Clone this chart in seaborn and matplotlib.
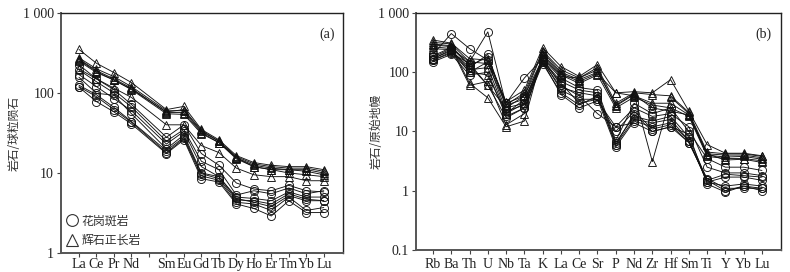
import numpy as np
import pandas as pd
import matplotlib
matplotlib.use("Agg")
import matplotlib.pyplot as plt
from matplotlib.lines import Line2D
from matplotlib.ticker import FixedLocator, NullLocator
import seaborn as sns

# ---------------- data ----------------
ree_labels = ["La", "Ce", "Pr", "Nd", "", "Sm", "Eu", "Gd", "Tb", "Dy", "Ho", "Er", "Tm", "Yb", "Lu"]
ree_elements = ["La", "Ce", "Pr", "Nd", "Sm", "Eu", "Gd", "Tb", "Dy", "Ho", "Er", "Tm", "Yb", "Lu"]

ree_syenite = [
    [350, 235, 180, 135, 62, 68, 35, 26, 16.5, 13.5, 12.5, 12, 12, 11],
    [275, 200, 160, 120, 60, 60, 33, 25, 16, 13, 12, 11.5, 11.5, 10.5],
    [265, 190, 150, 115, 57, 57, 32, 24, 15.5, 12.5, 11.5, 11, 11, 10],
    [260, 185, 145, 110, 55, 54, 31, 24, 15, 12, 11, 11, 10.5, 9.5],
    [250, 180, 145, 112, 58, 62, 34, 25, 15.5, 12, 11, 10, 9.5, 9],
    [200, 150, 115, 88, 40, 40, 22, 18, 11.5, 9.5, 9, 9, 8, 8],
]
ree_porphyry = [
    [225, 150, 110, 72, 28, 40, 17.5, 12.5, 7.5, 6.3, 6.0, 7.0, 6.0, 5.8],
    [194, 138, 100, 67, 25, 35, 14, 11, 5.3, 6.0, 5.5, 6.5, 5.5, 6.0],
    [157, 99, 94, 55, 20, 30, 10, 9, 5.0, 4.8, 4.5, 5.8, 5.0, 5.0],
    [125, 95, 66, 44, 19, 28, 9.8, 8.5, 4.6, 4.5, 4.1, 5.5, 4.7, 4.5],
    [120, 90, 62, 43, 18, 27, 9.2, 8.1, 4.3, 4.1, 3.4, 5.0, 3.4, 3.7],
    [118, 78, 58, 41, 17.5, 26, 8.5, 7.7, 4.1, 3.6, 2.9, 4.5, 3.2, 3.2],
    [170, 120, 85, 60, 23, 33, 12, 9, 4.8, 4.3, 3.8, 5.2, 4.5, 4.5],
]

spider_elements = ["Rb", "Ba", "Th", "U", "Nb", "Ta", "K", "La", "Ce", "Sr",
                   "P", "Nd", "Zr", "Hf", "Sm", "Ti", "Y", "Yb", "Lu"]
spider_syenite = [
    [350, 310, 170, 160, 32, 50, 260, 125, 85, 135, 45, 47, 45, 75, 22, 6.0, 4.3, 4.3, 3.9],
    [320, 300, 150, 140, 28, 45, 230, 110, 80, 120, 30, 45, 42, 40, 21, 4.5, 4.2, 4.2, 3.8],
    [300, 280, 130, 60, 25, 40, 220, 100, 75, 100, 28, 43, 3.1, 38, 20, 4.2, 4.0, 4.0, 3.6],
    [290, 270, 65, 37, 12, 15, 200, 95, 70, 95, 45, 40, 30, 30, 19, 4.0, 3.7, 3.8, 3.4],
    [270, 250, 60, 70, 13, 20, 190, 90, 65, 90, 25, 38, 28, 25, 18, 3.8, 3.5, 3.5, 3.2],
    [250, 240, 100, 90, 20, 30, 180, 85, 80, 110, 27, 42, 25, 22, 19, 4.2, 3.3, 3.4, 3.0],
]
spider_porphyry = [
    [200, 450, 250, 160, 30, 80, 170, 60, 40, 20, 12, 25, 18, 20, 12, 2.5, 2.0, 2.0, 1.8],
    [180, 250, 150, 480, 28, 35, 160, 70, 50, 45, 6.5, 18, 15, 18, 8, 1.5, 1.9, 1.8, 1.7],
    [170, 230, 120, 200, 25, 30, 150, 55, 45, 40, 6.0, 16, 14, 16, 7, 1.4, 1.7, 1.7, 1.5],
    [160, 220, 100, 150, 22, 28, 160, 50, 35, 35, 5.5, 15, 12, 14, 7, 1.4, 1.2, 1.3, 1.2],
    [150, 200, 90, 100, 18, 25, 140, 45, 28, 40, 6.0, 20, 10, 12, 6.5, 1.5, 1.0, 1.2, 1.1],
    [190, 260, 130, 180, 30, 40, 170, 80, 55, 50, 7.0, 30, 20, 25, 10, 3.5, 2.5, 2.5, 2.2],
    [170, 240, 110, 120, 20, 35, 155, 65, 30, 35, 10, 22, 11, 13, 6.5, 1.6, 1.1, 1.1, 1.1],
    [160, 210, 140, 60, 17, 25, 150, 42, 25, 33, 12, 14, 10, 12, 9, 1.3, 0.95, 1.2, 1.0],
]

legend_labels = ["花岗斑岩", "辉石正长岩"]
ylabel_a = "岩石/球粒陨石"
ylabel_b = "岩石/原始地幔"

# ---------------- build long tables ----------------
def long_table(elements, positions, groups):
    rows = []
    for rock, samples in groups:
        for i, s in enumerate(samples):
            for el, p, v in zip(elements, positions, s):
                rows.append({"rock": rock, "sample": f"{rock}{i}", "el": el, "pos": p, "value": v})
    return pd.DataFrame(rows)

ree_pos = [ree_labels.index(e) for e in ree_elements]
df_a = long_table(ree_elements, ree_pos, [("tri", ree_syenite), ("cir", ree_porphyry)])
df_b = long_table(spider_elements, list(range(len(spider_elements))),
                  [("tri", spider_syenite), ("cir", spider_porphyry)])

# ---------------- style ----------------
sns.set_theme(style="white")
plt.rcParams["font.family"] = ["Liberation Serif", "Noto Sans CJK SC", "DejaVu Sans"]
plt.rcParams["axes.unicode_minus"] = False

fig = plt.figure(figsize=(7.9, 2.72), dpi=100)
ax_a = fig.add_axes([0.0772, 0.0699, 0.3570, 0.8824])
ax_b = fig.add_axes([0.5266, 0.0809, 0.4620, 0.8713])

markers = {"cir": "o", "tri": "^"}
line_kw = dict(color="#111111", linewidth=0.65, markersize=5.8,
               markerfacecolor="none", markeredgecolor="#111111", markeredgewidth=0.65)

for ax, df in [(ax_a, df_a), (ax_b, df_b)]:
    sns.lineplot(data=df, x="pos", y="value", units="sample", estimator=None,
                 style="rock", markers=markers, dashes=False, legend=False,
                 sort=False, ax=ax, **line_kw)
    ax.set_yscale("log")
    ax.set_xlabel("")
    ax.set_ylabel("")
    for s in ["top", "right"]:
        ax.spines[s].set_color("#222222")
        ax.spines[s].set_linewidth(1.0)
    for s in ["left", "bottom"]:
        ax.spines[s].set_color("#555555")
        ax.spines[s].set_linewidth(1.4)
    ax.tick_params(axis="both", which="major", direction="out", length=3, width=0.8,
                   color="#444444", labelsize=10, labelcolor="#222222", pad=2,
                   left=True, bottom=True, top=False, right=False)
    ax.tick_params(axis="x", pad=0.5)
    ax.yaxis.set_minor_locator(NullLocator())
    ax.grid(False)

cjk = ["Noto Sans CJK SC", "DejaVu Sans"]

# panel (a)
ax_a.set_xlim(-1.03, 15.1)
ax_a.set_ylim(1, 1000)
ax_a.set_xticks(range(len(ree_labels)))
ax_a.set_xticklabels(ree_labels)
ax_a.yaxis.set_major_locator(FixedLocator([1, 10, 100, 1000]))
ax_a.set_yticklabels(["1", "10", "100", "1 000"])
ax_a.set_ylabel(ylabel_a, fontsize=8.5, color="#333333", family=cjk)
ax_a.yaxis.set_label_coords(-0.142, 0.5)
ax_a.text(0.97, 0.94, "(a)", transform=ax_a.transAxes, ha="right", va="top",
          fontsize=10, color="#222222")

handles = [Line2D([], [], linestyle="none", marker="o", markersize=8.5,
                  markerfacecolor="none", markeredgecolor="#333333", markeredgewidth=0.8),
           Line2D([], [], linestyle="none", marker="^", markersize=9,
                  markerfacecolor="none", markeredgecolor="#333333", markeredgewidth=0.8)]
leg = ax_a.legend(handles, legend_labels, loc="lower left", bbox_to_anchor=(-0.015, -0.02),
                  frameon=False, handlelength=0.8, handletextpad=0.35, labelspacing=0.55,
                  prop={"family": cjk, "size": 8.6})
for t in leg.get_texts():
    t.set_color("#333333")

# panel (b)
ax_b.set_xlim(-0.93, 19.04)
ax_b.set_ylim(0.1, 1000)
ax_b.set_xticks(range(len(spider_elements)))
ax_b.set_xticklabels(spider_elements)
ax_b.tick_params(axis="x", pad=2.5)
ax_b.yaxis.set_major_locator(FixedLocator([0.1, 1, 10, 100, 1000]))
ax_b.set_yticklabels(["0.1", "1", "10", "100", "1 000"])
ax_b.set_ylabel(ylabel_b, fontsize=8.5, color="#333333", family=cjk)
ax_b.yaxis.set_label_coords(-0.090, 0.5)
ax_b.text(0.975, 0.94, "(b)", transform=ax_b.transAxes, ha="right", va="top",
          fontsize=10, color="#222222")

fig.savefig("out.png", dpi=100)
